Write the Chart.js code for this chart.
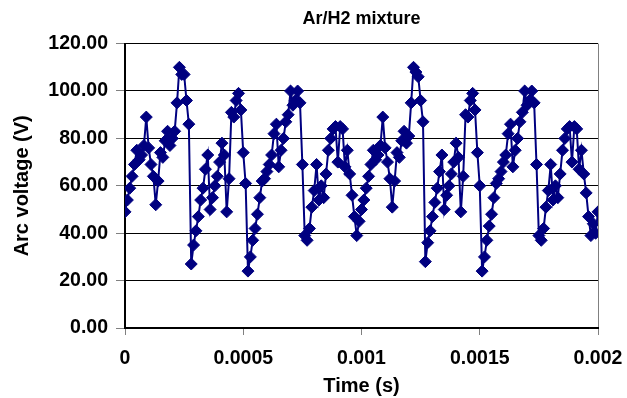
<!DOCTYPE html>
<html>
<head>
<meta charset="utf-8">
<script src="https://cdn.jsdelivr.net/npm/chart.js@4/dist/chart.umd.min.js"></script>
<style>
  html, body { margin: 0; padding: 0; background: #fff; }
  #wrap { width: 627px; height: 398px; }
</style>
</head>
<body>
<div id="wrap"><canvas id="arcChart" width="627" height="398"></canvas></div>
<script>
// sampling step of the recording (s)
const sampleStep = 0.00001;

// arc voltage (V), first millisecond
const voltageFirstHalf = [
  49, 54, 59, 64, 69, 75, 71, 73, 77, 89,
  76, 69, 64, 52, 62, 74, 72, 79, 83, 77,
  80, 83, 95, 110, 107, 107, 96, 86, 27, 35,
  41, 47, 54, 59, 67, 73, 50, 55, 60, 64,
  70, 78, 73, 49, 63, 91, 89, 96, 99, 92,
  74, 61, 24, 30, 37, 42, 48, 55, 62, 63,
  66, 69, 73, 82, 86, 68, 75, 80, 87, 90,
  100, 94, 96, 100, 95, 69, 39, 37, 42, 51,
  58, 69, 54, 60, 55, 65, 75, 80, 84, 85,
  70, 85, 84, 68, 75, 65, 56, 47, 39, 45
];

// arc voltage (V), second millisecond (0.001 .. 0.002)
const voltageSecondHalf = [
  50, 54, 59, 64, 69, 75, 71, 73, 77, 89,
  76, 70, 63, 51, 62, 74, 72, 79, 83, 78,
  81, 95, 110, 108, 106, 96, 87, 28, 36, 41,
  47, 53, 59, 66, 73, 50, 56, 60, 65, 70,
  78, 72, 49, 64, 90, 89, 96, 99, 92, 74,
  60, 24, 30, 37, 43, 48, 55, 61, 63, 66,
  70, 73, 82, 86, 68, 75, 80, 87, 91, 100,
  94, 96, 100, 95, 69, 39, 37, 42, 51, 58,
  69, 54, 60, 55, 65, 75, 80, 84, 85, 70,
  85, 84, 67, 75, 65, 57, 47, 39, 44, 40,
  49
];

const xTickLabels = ['0', '0.0005', '0.001', '0.0015', '0.002'];
const yTickLabels = ['0.00', '20.00', '40.00', '60.00', '80.00', '100.00', '120.00'];

const voltage = voltageFirstHalf.concat(voltageSecondHalf);
const times = voltage.map((v, i) => +(i * sampleStep).toFixed(6));

const navy = '#000080';
const fontFamily = '"Liberation Sans", Arial, Helvetica, sans-serif';

const arcCtx = document.getElementById('arcChart').getContext('2d');

new Chart(arcCtx, {
    type: 'line',
    data: {
        labels: times,
        datasets: [{
            label: 'Arc voltage',
            data: voltage,
            borderColor: navy,
            backgroundColor: navy,
            borderWidth: 2,
            pointStyle: 'rectRot',
            pointRadius: 6,
            pointBorderWidth: 1,
            pointBorderColor: navy,
            pointBackgroundColor: navy,
            tension: 0,
            fill: false
        }]
    },
    options: {
        responsive: false,
        animation: false,
        devicePixelRatio: 1,
        layout: {
            padding: { left: 0, right: 29, top: 0, bottom: 0 }
        },
        plugins: {
            legend: { display: false },
            tooltip: { enabled: false },
            title: {
                display: true,
                text: 'Ar/H2 mixture',
                fullSize: false,
                color: '#000',
                font: { family: fontFamily, size: 18, weight: 'bold' },
                padding: { top: 8, bottom: 14 }
            }
        },
        scales: {
            x: {
                type: 'linear',
                min: 0,
                max: 0.002,
                afterFit: (scale) => {
                    scale.height = 70;
                    // let the layout padding alone decide the right margin
                    scale.paddingRight = 0;
                    scale.paddingLeft = 0;
                },
                afterBuildTicks: (scale) => {
                    scale.ticks = xTickLabels.map(t => ({ value: parseFloat(t) }));
                },
                ticks: {
                    color: '#000',
                    padding: 12,
                    maxRotation: 0,
                    autoSkip: false,
                    font: { family: fontFamily, size: 19.5, weight: 'bold' },
                    callback: (value, index) => xTickLabels[index]
                },
                grid: {
                    drawOnChartArea: true,
                    color: (c) => c.index === xTickLabels.length - 1 ? '#808080' : 'rgba(0,0,0,0)',
                    tickColor: '#808080',
                    tickLength: 7,
                    lineWidth: 1
                },
                border: { display: true, color: '#000', width: 2 },
                title: {
                    display: true,
                    text: 'Time (s)',
                    color: '#000',
                    font: { family: fontFamily, size: 20, weight: 'bold' },
                    padding: { top: 4, bottom: 0 }
                }
            },
            y: {
                min: 0,
                max: 120,
                afterFit: (scale) => { scale.width = 125; },
                afterBuildTicks: (scale) => {
                    scale.ticks = yTickLabels.map(t => ({ value: parseFloat(t) }));
                },
                ticks: {
                    color: '#000',
                    padding: 8,
                    font: { family: fontFamily, size: 19.5, weight: 'bold' },
                    callback: (value, index) => yTickLabels[index]
                },
                grid: {
                    color: '#000',
                    tickColor: '#808080',
                    tickLength: 9,
                    lineWidth: 1
                },
                border: { display: true, color: '#000', width: 2 },
                title: {
                    display: true,
                    text: 'Arc voltage (V)',
                    color: '#000',
                    font: { family: fontFamily, size: 20, weight: 'bold' },
                    padding: { top: 10, bottom: 0 }
                }
            }
        }
    }
});
</script>
</body>
</html>
